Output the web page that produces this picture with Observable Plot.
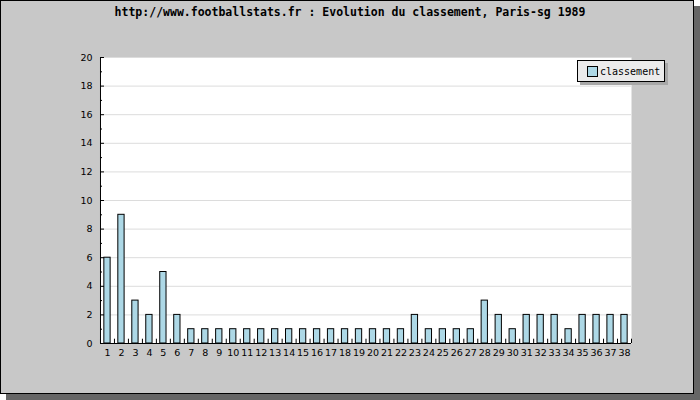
<!DOCTYPE html>
<html><head><meta charset="utf-8">
<script src="https://cdn.jsdelivr.net/npm/d3@7"></script>
<script src="https://cdn.jsdelivr.net/npm/@observablehq/plot@0.6"></script>
<style>
body{margin:0;background:#fff}
#wrap{position:relative;width:700px;height:400px;overflow:hidden}
#box{position:absolute;left:0;top:0;width:692px;height:392px;background:#c8c8c8;border:1px solid #000;box-shadow:6px 6px 0 #666}
#title{position:absolute;left:0;top:5px;width:700px;text-align:center;font:bold 11.5px "DejaVu Sans Mono";color:#000;white-space:nowrap}
#chart{position:absolute;left:0;top:0}
#legend{position:absolute;left:577px;top:60px;width:86px;height:20px;background:#ebebeb;border:1px solid #000;box-shadow:3px 3px 0 #a8a8a8;font:10px "DejaVu Sans Mono";color:#000;display:flex;align-items:center;box-sizing:content-box}
#legend .sw{display:inline-block;width:9px;height:9px;background:#add8e6;border:1px solid #000;margin-left:9px;margin-right:2px}
</style></head>
<body>
<div id="wrap">
  <div id="box"></div>
  <div id="title">http://www.footballstats.fr : Evolution du classement, Paris-sg 1989</div>
  <div id="chart"></div>
  <div id="legend"><span class="sw"></span><span>classement</span></div>
</div>
<script>
const rounds = ["1","2","3","4","5","6","7","8","9","10","11","12","13","14","15","16","17","18","19","20","21","22","23","24","25","26","27","28","29","30","31","32","33","34","35","36","37","38"];
const classement = [6,9,3,2,5,2,1,1,1,1,1,1,1,1,1,1,1,1,1,1,1,1,2,1,1,1,1,3,2,1,2,2,2,1,2,2,2,2];
const yTicks = [0,2,4,6,8,10,12,14,16,18,20];
const yMinor = [1,3,5,7,9,11,13,15,17,19];

const data = rounds.map((r, i) => ({round: r, value: classement[i]}));
const last = rounds[rounds.length - 1];

const chart = Plot.plot({
  width: 700, height: 400,
  marginLeft: 100, marginRight: 69, marginTop: 57, marginBottom: 57,
  style: {background: "transparent", fontFamily: "DejaVu Sans", fontSize: "9.5px", color: "#000"},
  x: {type: "band", domain: rounds, paddingInner: 0.55, paddingOuter: 0.275, label: null},
  y: {domain: [0, 20], label: null},
  marks: [
    Plot.frame({fill: "#fff", stroke: null}),
    Plot.gridY(yTicks.filter(d => d > 0), {stroke: "#dcdcdc", strokeOpacity: 1}),
    Plot.barY(data, {x: "round", y: "value", fill: "#add8e6", stroke: "#000", strokeWidth: 1}),
    Plot.axisY({ticks: yTicks, tickSize: 0, tickPadding: 8}),
    Plot.axisY({ticks: yTicks, tickSize: -4, tickFormat: () => ""}),
    Plot.axisY({ticks: yMinor, tickSize: -2, tickFormat: () => ""}),
    Plot.axisX({tickSize: 0, tickPadding: 6}),
    Plot.ruleX(rounds, {x: d => d, dx: -7, y1: 0, y2: 0.3, stroke: "#000"}),
    Plot.ruleX([last], {x: d => d, dx: 7, y1: 0, y2: 0.3, stroke: "#000"}),
    Plot.ruleX([rounds[0]], {x: d => d, dx: -7, stroke: "#000"}),
    Plot.ruleY([0], {stroke: "#000"})
  ]
});
document.getElementById("chart").appendChild(chart);
</script>
</body></html>
